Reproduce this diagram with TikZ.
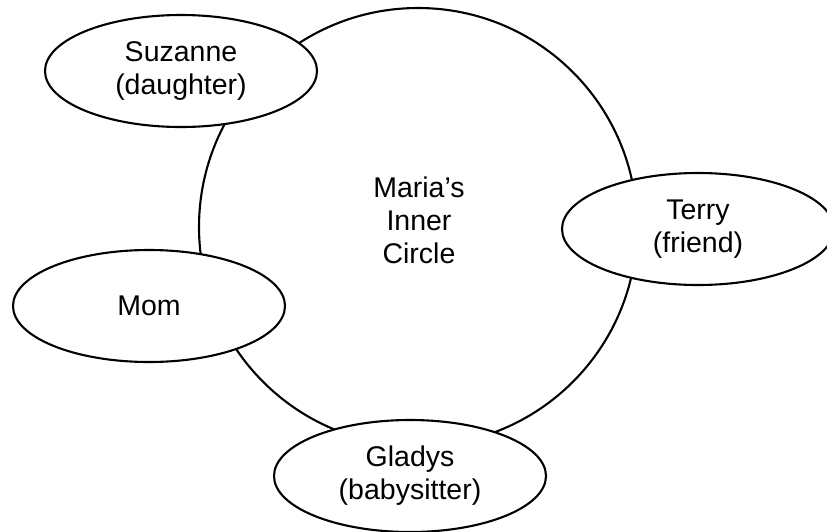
\documentclass[tikz,border=0pt]{standalone}
\usepackage{fontspec}
\setmainfont{Liberation Sans}
\usetikzlibrary{shapes.geometric}
\tikzset{
  person/.style={ellipse, draw=black, fill=white, line width=2.1pt,
    minimum width=272pt, minimum height=112pt, inner sep=0pt,
    align=center, font=\fontsize{28.5}{33}\selectfont},
  inner/.style={circle, draw=black, line width=2.1pt, minimum size=438pt, inner sep=0pt},
  lbl/.style={align=center, inner sep=0pt, font=\fontsize{28.5}{33}\selectfont}
}
\begin{document}
\begin{tikzpicture}[x=1pt,y=-1pt]
  \useasboundingbox (0,0) rectangle (827,531);
  \fill[white] (0,0) rectangle (827,531);
  \clip (0,0) rectangle (827,531);
  \node[inner] (circ) at (418,227) {};
  \node[lbl] (title) at (419,220) {Maria’s\\Inner\\Circle};
  \node[person] (suzanne) at (181,71) {Suzanne\\(daughter)};
  \node[person] (terry) at (698,229) {Terry\\(friend)};
  \node[person] (mom) at (149,306) {Mom};
  \node[person] (gladys) at (410,476) {Gladys\\(babysitter)};
\end{tikzpicture}
\end{document}
